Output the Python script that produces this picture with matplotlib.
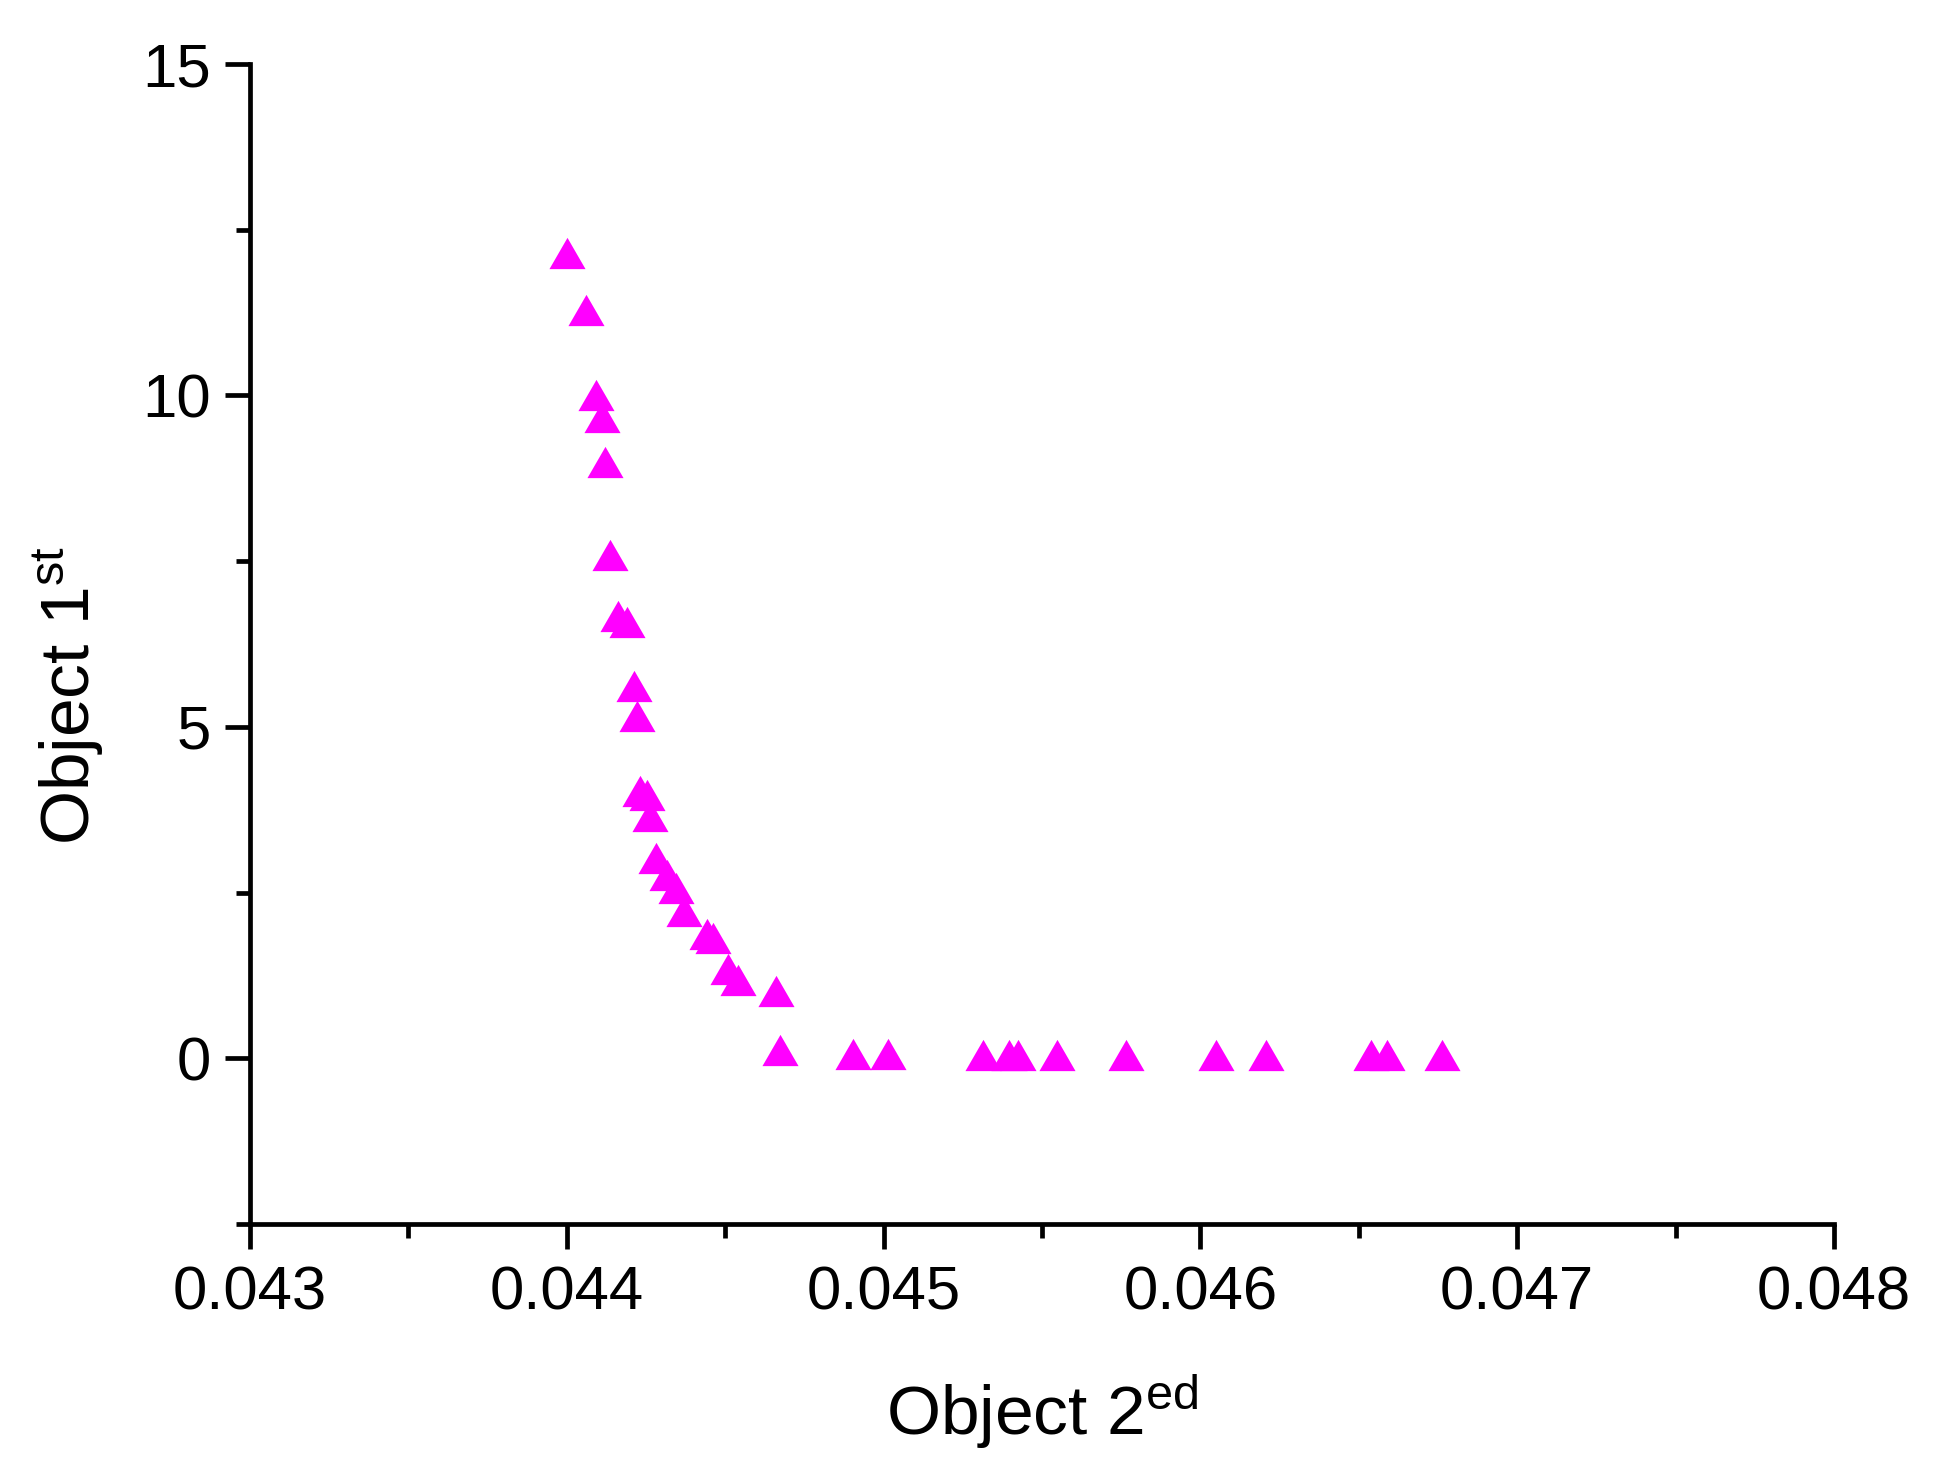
import matplotlib
matplotlib.use("Agg")
import matplotlib.pyplot as plt
import numpy as np

plt.rcParams['font.family'] = ['Liberation Sans', 'DejaVu Sans']
plt.rcParams['mathtext.fontset'] = 'custom'
plt.rcParams['mathtext.rm'] = 'Liberation Sans'
plt.rcParams['mathtext.it'] = 'Liberation Sans'

# Data: Object 2 (x) vs Object 1 (y)
obj2 = [0.044000, 0.044062, 0.044091, 0.044111, 0.044120, 0.044136, 0.044160,
        0.044189, 0.044212, 0.044220, 0.044231, 0.044252, 0.044262, 0.044280,
        0.044315, 0.044343, 0.044369, 0.044441, 0.044462, 0.044509, 0.044541,
        0.044660, 0.044673, 0.044903, 0.045014, 0.045314, 0.045396, 0.045424,
        0.045547, 0.045765, 0.046048, 0.046207, 0.046539, 0.046589, 0.046762]
obj1 = [12.15, 11.29, 10.00, 9.67, 9.00, 7.59, 6.68,
        6.58, 5.61, 5.17, 4.04, 3.97, 3.66, 3.02,
        2.77, 2.57, 2.22, 1.87, 1.82, 1.34, 1.18,
        1.01, 0.13, 0.07, 0.07, 0.05, 0.05, 0.05,
        0.05, 0.05, 0.05, 0.05, 0.05, 0.05, 0.05]

x_major = [0.043, 0.044, 0.045, 0.046, 0.047, 0.048]
x_labels = ["0.043", "0.044", "0.045", "0.046", "0.047", "0.048"]
y_major = [0, 5, 10, 15]
y_labels = ["0", "5", "10", "15"]

fig = plt.figure(figsize=(19.43, 14.79), dpi=100)
ax = fig.add_axes([0.1287, 0.1724, 0.9439 - 0.1287, 0.9567 - 0.1724])

tri = [(0, 0.433), (-0.5, -0.433), (0.5, -0.433), (0, 0.433)]
ax.plot(obj2, obj1, linestyle='none', marker=tri, markersize=26,
        markerfacecolor='#FF00FF', markeredgewidth=0, color='#FF00FF',
        clip_on=False)

ax.set_xlim(0.043, 0.048)
ax.set_ylim(-2.5, 15)
ax.set_xticks(x_major)
ax.set_xticklabels(x_labels)
ax.set_xticks(np.arange(0.0435, 0.048, 0.001), minor=True)
ax.set_yticks(y_major)
ax.set_yticklabels(y_labels)
ax.set_yticks([-2.5, 2.5, 7.5, 12.5], minor=True)

for s in ['top', 'right']:
    ax.spines[s].set_visible(False)
for s in ['left', 'bottom']:
    ax.spines[s].set_linewidth(3.4)
    ax.spines[s].set_capstyle('projecting')

ax.tick_params(which='major', direction='out', length=18, width=3.4,
               labelsize=44.5, pad=12)
ax.tick_params(which='minor', direction='out', length=10, width=3.4)
ax.tick_params(axis='y', which='major', pad=10)

ax.set_xlabel(r'Object 2$^{\mathrm{ed}}$', fontsize=50)
ax.set_ylabel(r'Object 1$^{\mathrm{st}}$', fontsize=50)
ax.xaxis.set_label_coords(0.5, -0.128)
ax.yaxis.set_label_coords(-0.091, 0.456)

fig.savefig("out.png", dpi=100)
